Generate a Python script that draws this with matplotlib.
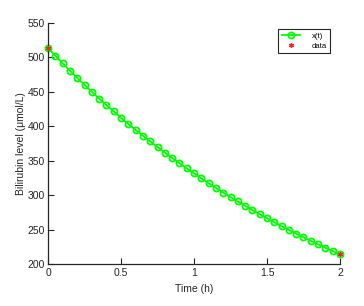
import matplotlib
matplotlib.use('Agg')
import matplotlib.pyplot as plt

# model curve, every 0.05 h
t = [0.00, 0.05, 0.10, 0.15, 0.20, 0.25, 0.30, 0.35, 0.40, 0.45,
     0.50, 0.55, 0.60, 0.65, 0.70, 0.75, 0.80, 0.85, 0.90, 0.95,
     1.00, 1.05, 1.10, 1.15, 1.20, 1.25, 1.30, 1.35, 1.40, 1.45,
     1.50, 1.55, 1.60, 1.65, 1.70, 1.75, 1.80, 1.85, 1.90, 1.95, 2.00]
x_t = [513.0, 502.2, 491.1, 480.4, 470.0, 459.8, 449.8, 440.0, 430.6, 421.3,
       412.0, 403.2, 394.5, 386.0, 377.8, 369.7, 361.7, 353.9, 346.3, 338.8,
       331.5, 324.3, 317.3, 310.4, 303.7, 297.2, 290.8, 284.5, 278.3, 272.3,
       266.4, 260.7, 255.0, 249.5, 244.1, 238.9, 233.7, 228.7, 223.7, 218.9, 214.2]

# measurements
t_data = [0.0, 2.0]
y_data = [513.0, 214.0]

xticks = [0, 0.5, 1, 1.5, 2]
xticklabels = ['0', '0.5', '1', '1.5', '2']
yticks = [200, 250, 300, 350, 400, 450, 500, 550]

plt.rcParams['font.family'] = ['Liberation Sans', 'DejaVu Sans']
grey = '#262626'

fig = plt.figure(figsize=(3.64, 3.06), dpi=100)
ax = fig.add_axes([0.132, 0.137, 0.802, 0.789])

ax.plot(t, x_t, color='#00ff00', lw=1.3, marker='o', ms=4.4,
        mfc='none', mec='#00ff00', mew=1.3, label='x(t)', clip_on=False)
# MATLAB-like asterisk marker
ax.plot(t_data, y_data, ls='none', marker=(6, 2, 0), ms=3.2, mew=1.0,
        color='#ff2020', label='data', clip_on=False, zorder=3)

ax.set_xlim(0, 2)
ax.set_ylim(200, 550)
ax.set_xticks(xticks)
ax.set_xticklabels(xticklabels)
ax.set_yticks(yticks)

for side in ['top', 'right']:
    ax.spines[side].set_visible(False)
for side in ['left', 'bottom']:
    ax.spines[side].set_color(grey)
    ax.spines[side].set_linewidth(0.9)
ax.tick_params(direction='in', length=4, width=0.8, colors=grey,
               labelsize=7.5, pad=2.5)

ax.set_xlabel('Time (h)', fontsize=7.5, color=grey, labelpad=5)
ax.set_ylabel('Bilirubin level (\u03bcmol/L)', fontsize=7.5, color=grey,
              labelpad=1)

leg = ax.legend(loc='upper right', bbox_to_anchor=(0.966, 0.974),
                borderaxespad=0, fontsize=5.5, fancybox=False, framealpha=1,
                edgecolor=grey, handlelength=2.4, borderpad=0.45,
                labelspacing=0.35, handletextpad=1.5)
leg.get_frame().set_linewidth(0.8)

fig.savefig('out.png', dpi=100)
